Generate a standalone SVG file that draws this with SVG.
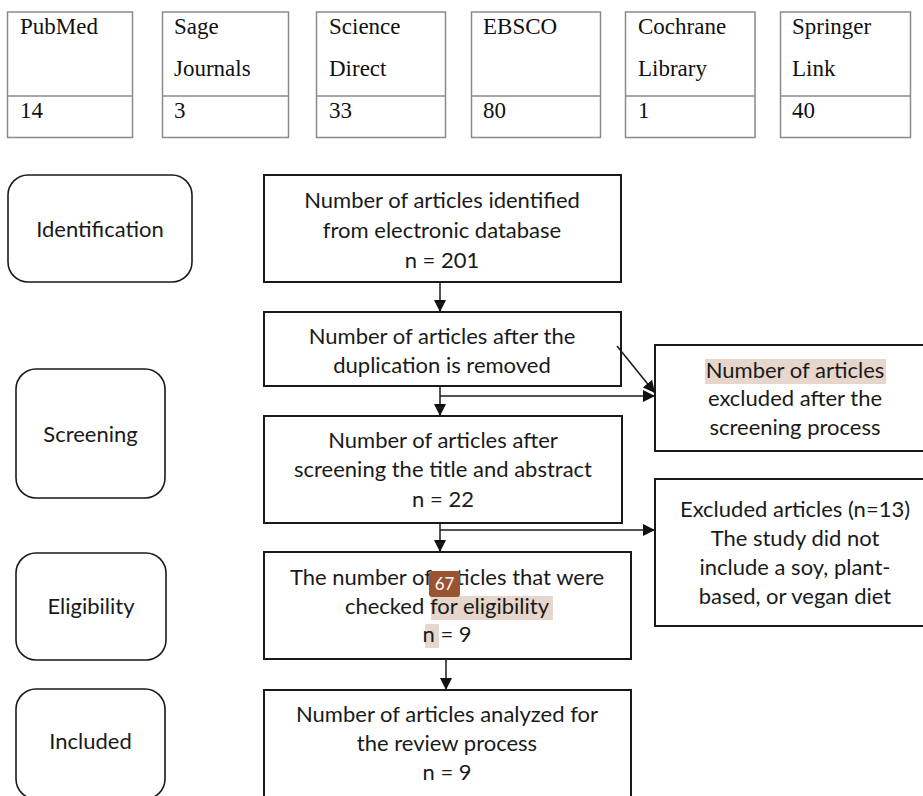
<svg xmlns="http://www.w3.org/2000/svg" width="923" height="796" viewBox="0 0 923 796">
<defs>
<style>
.db{fill:#fff;stroke:#8a8a8a;stroke-width:1.5}
.dt{font-family:"Liberation Serif","Times New Roman",serif;font-size:23px;fill:#111}
.bx{fill:#fff;stroke:#1a1a1a;stroke-width:2}
.st{fill:#fff;stroke:#1a1a1a;stroke-width:1.6}
.t{font-family:Lato,"Open Sans",sans-serif;font-size:22px;fill:#1a1a1a;text-anchor:middle}
.hl{fill:#e6d6cb}
.ln{stroke:#1a1a1a;stroke-width:1.5;fill:none}
</style>
<marker id="ah" viewBox="0 0 12 12" refX="12" refY="6" markerWidth="12" markerHeight="12" markerUnits="userSpaceOnUse" orient="auto">
<path d="M0,0 L12,6 L0,12 Z" fill="#111"/>
</marker>
</defs>

<g id="databases">
<g id="db-pubmed"><rect class="db" x="7.5" y="12" width="125" height="125.5"/><line class="db" x1="7.5" y1="96" x2="132.5" y2="96"/><text class="dt" x="20" y="34">PubMed</text><text class="dt" x="20" y="118">14</text></g>
<g id="db-sage"><rect class="db" x="162.5" y="12" width="126" height="125.5"/><line class="db" x1="162.5" y1="96" x2="288.5" y2="96"/><text class="dt" x="174" y="34">Sage</text><text class="dt" x="174" y="76">Journals</text><text class="dt" x="174" y="118">3</text></g>
<g id="db-science"><rect class="db" x="316.5" y="12" width="129" height="125.5"/><line class="db" x1="316.5" y1="96" x2="445.5" y2="96"/><text class="dt" x="329" y="34">Science</text><text class="dt" x="329" y="76">Direct</text><text class="dt" x="329" y="118">33</text></g>
<g id="db-ebsco"><rect class="db" x="471.5" y="12" width="129" height="125.5"/><line class="db" x1="471.5" y1="96" x2="600.5" y2="96"/><text class="dt" x="483" y="34">EBSCO</text><text class="dt" x="483" y="118">80</text></g>
<g id="db-cochrane"><rect class="db" x="625.5" y="12" width="129.5" height="125.5"/><line class="db" x1="625.5" y1="96" x2="755" y2="96"/><text class="dt" x="638" y="34">Cochrane</text><text class="dt" x="638" y="76">Library</text><text class="dt" x="638" y="118">1</text></g>
<g id="db-springer"><rect class="db" x="780.5" y="12" width="130" height="125.5"/><line class="db" x1="780.5" y1="96" x2="910.5" y2="96"/><text class="dt" x="792" y="34">Springer</text><text class="dt" x="792" y="76">Link</text><text class="dt" x="792" y="118">40</text></g>
</g>

<g id="stage-identification"><rect class="st" x="8" y="175" width="184" height="107" rx="20"/><text class="t" x="100" y="237">Identification</text></g>
<g id="stage-screening"><rect class="st" x="16" y="369" width="149" height="129" rx="20"/><text class="t" x="90.5" y="442">Screening</text></g>
<g id="stage-eligibility"><rect class="st" x="16" y="553" width="150" height="107" rx="20"/><text class="t" x="91" y="614">Eligibility</text></g>
<g id="stage-included"><rect class="st" x="16" y="689" width="149" height="110" rx="20"/><text class="t" x="90.5" y="749">Included</text></g>

<g id="box-identified"><rect class="bx" x="264" y="175" width="357" height="107"/>
<text class="t" x="442" y="208">Number of articles identified</text>
<text class="t" x="442" y="238">from electronic database</text>
<text class="t" x="442" y="268">n = 201</text></g>

<g id="box-dedup"><rect class="bx" x="264" y="312" width="357" height="74"/>
<text class="t" x="442" y="344">Number of articles after the</text>
<text class="t" x="442" y="373">duplication is removed</text></g>

<g id="box-screened"><rect class="bx" x="264" y="416" width="358" height="107"/>
<text class="t" x="443" y="448">Number of articles after</text>
<text class="t" x="443" y="477">screening the title and abstract</text>
<text class="t" x="443" y="507">n = 22</text></g>

<g id="box-eligible"><rect class="bx" x="264" y="552" width="367" height="107"/>
<rect class="hl" x="431" y="596" width="122" height="24"/>
<rect class="hl" x="425" y="624" width="14" height="24"/>
<text class="t" x="447" y="585">The number of articles that were</text>
<text class="t" x="447" y="614">checked for eligibility</text>
<text class="t" x="447" y="642">n = 9</text>
<rect x="429" y="571" width="31" height="26" rx="3" fill="#9a5530"/>
<text x="444.5" y="590" font-family="Lato,'Open Sans',sans-serif" font-size="17" fill="#fff" text-anchor="middle">67</text></g>

<g id="box-included"><rect class="bx" x="264" y="690" width="367" height="110"/>
<text class="t" x="447" y="722">Number of articles analyzed for</text>
<text class="t" x="447" y="751">the review process</text>
<text class="t" x="447" y="780">n = 9</text></g>

<g id="box-excluded-screening"><rect class="bx" x="655" y="345" width="270" height="106"/>
<rect class="hl" x="705" y="359" width="181" height="25"/>
<text class="t" x="795" y="378">Number of articles</text>
<text class="t" x="795" y="406">excluded after the</text>
<text class="t" x="795" y="435">screening process</text></g>

<g id="box-excluded-eligibility"><rect class="bx" x="655" y="479" width="270" height="147"/>
<text class="t" x="795" y="517">Excluded articles (n=13)</text>
<text class="t" x="795" y="546">The study did not</text>
<text class="t" x="795" y="575">include a soy, plant-</text>
<text class="t" x="795" y="604">based, or vegan diet</text></g>

<g id="connectors">
<line class="ln" x1="440" y1="282" x2="440" y2="312" marker-end="url(#ah)"/>
<line class="ln" x1="440" y1="386" x2="440" y2="416" marker-end="url(#ah)"/>
<line class="ln" x1="440" y1="396" x2="655" y2="396" marker-end="url(#ah)"/>
<line class="ln" x1="617" y1="346" x2="655" y2="393" marker-end="url(#ah)"/>
<line class="ln" x1="440" y1="523" x2="440" y2="552" marker-end="url(#ah)"/>
<line class="ln" x1="440" y1="530" x2="655" y2="530" marker-end="url(#ah)"/>
<line class="ln" x1="446" y1="659" x2="446" y2="690" marker-end="url(#ah)"/>
</g>
</svg>
